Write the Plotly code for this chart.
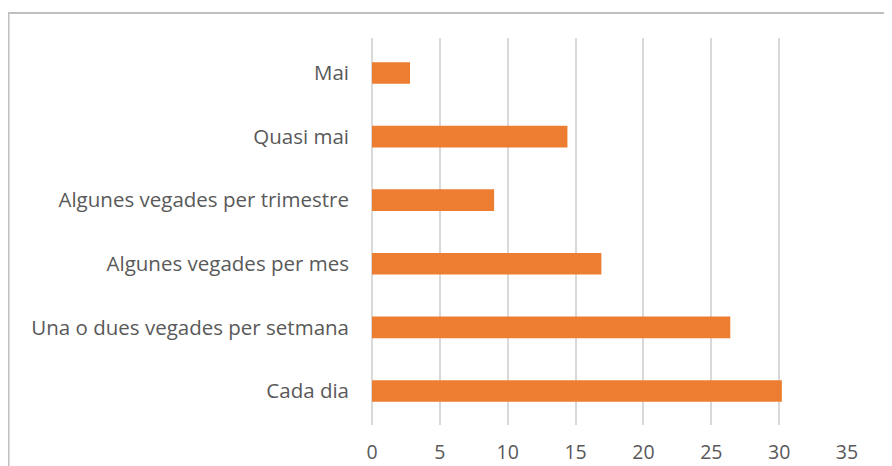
import plotly.graph_objects as go

# Dades
categories = ['Cada dia', 'Una o dues vegades per setmana', 'Algunes vegades per mes',
              'Algunes vegades per trimestre', 'Quasi mai', 'Mai']
valors = [30.2, 26.4, 16.9, 9.0, 14.4, 2.8]
x_ticks = [0, 5, 10, 15, 20, 25, 30, 35]

fig = go.Figure(go.Bar(
    y=categories, x=valors, orientation='h',
    marker=dict(color='#ED7D31', line=dict(width=0)),
))

# la pàgina té 8px de marge al body
W, H = 892, 466
ml, mt = 364, 30
pw, ph = 475, 387
mr, mb = W - ml - pw, H - mt - ph

fig.update_layout(
    width=W, height=H,
    margin=dict(l=ml, r=mr, t=mt, b=mb, autoexpand=False),
    paper_bgcolor='white', plot_bgcolor='white',
    bargap=0.66,
    showlegend=False,
    font=dict(family='Open Sans, Liberation Sans, sans-serif', size=20.5, color='#595959'),
    xaxis=dict(range=[0, 35], tickvals=x_ticks, showgrid=True, gridcolor='#D9D9D9',
               gridwidth=1.5, zeroline=True, zerolinecolor='#D9D9D9', zerolinewidth=1.5,
               showline=False, ticks='', ticklabelstandoff=13, automargin=False,
               tickfont=dict(size=19.5, color='#595959')),
    yaxis=dict(range=[-0.535, 5.55], showgrid=False, zeroline=False, showline=False,
               ticks='', ticklabelstandoff=22, automargin=False,
               tickfont=dict(size=20.5, color='#595959')),
)

# marc del gràfic
fig.add_shape(type='rect', xref='paper', yref='paper',
              x0=(0.5 - ml) / pw, x1=1.3, y0=-0.3, y1=(H - mb - 5) / ph,
              line=dict(color='#BFBFBF', width=2), fillcolor='rgba(0,0,0,0)', layer='below')

fig.write_html('out.html')
